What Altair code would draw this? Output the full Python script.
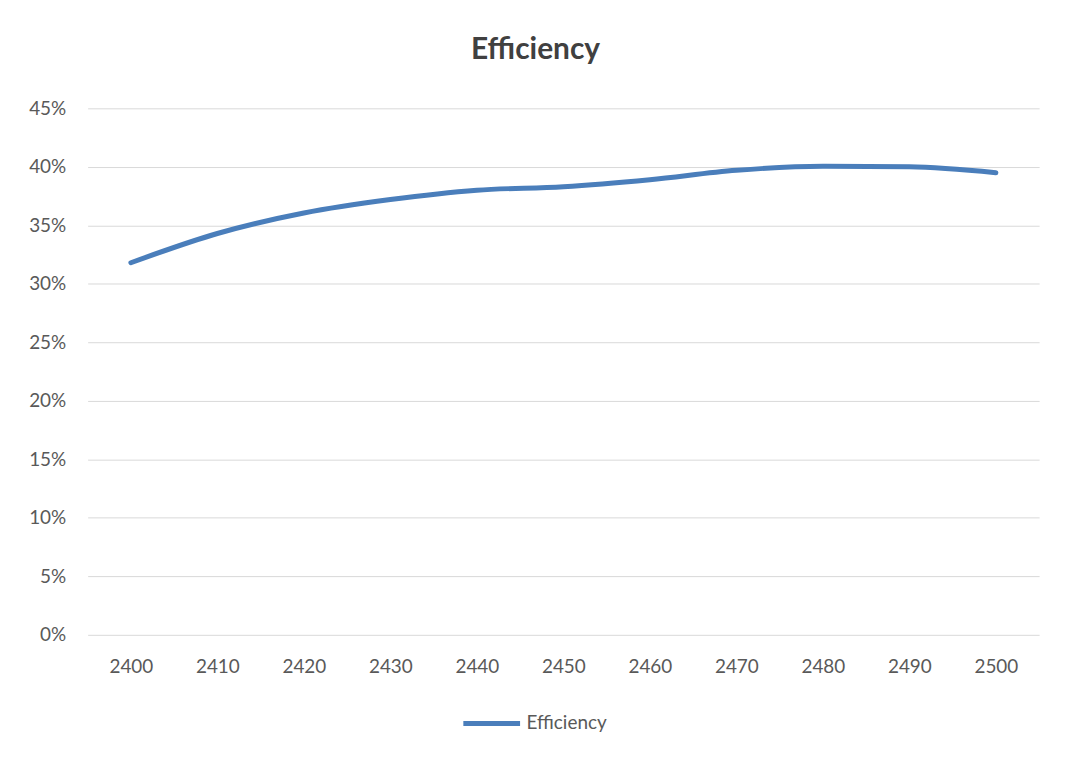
import altair as alt
import pandas as pd

years = [2400, 2410, 2420, 2430, 2440, 2450, 2460, 2470, 2480, 2490, 2500]
efficiency = [0.318, 0.343, 0.3605, 0.372, 0.380, 0.383, 0.389, 0.397, 0.4005, 0.400, 0.395]
series = ["Efficiency"] * len(years)

df = pd.DataFrame({"year": years, "eff": efficiency, "series": series})

FONT = "Lato"
TXT = "#595959"

chart = alt.Chart(df).mark_line(
    strokeWidth=5, interpolate="monotone", strokeCap="round"
).encode(
    x=alt.X("year:O", title=None,
            scale=alt.Scale(paddingInner=0, paddingOuter=0),
            axis=alt.Axis(labelAngle=0, ticks=False, domain=False, grid=False,
                          labelPadding=23, labelFontSize=19, labelColor=TXT,
                          labelFont=FONT)),
    y=alt.Y("eff:Q", title=None,
            scale=alt.Scale(domain=[0, 0.45], nice=False),
            axis=alt.Axis(format=".0%", values=[0, 0.05, 0.1, 0.15, 0.2, 0.25, 0.3, 0.35, 0.4, 0.45],
                          ticks=False, domain=False, gridColor="#d9d9d9", gridWidth=1,
                          labelPadding=22, labelFontSize=19, labelColor=TXT,
                          labelFont=FONT)),
    color=alt.Color("series:N", title=None,
                    scale=alt.Scale(range=["#4a7ebb"]),
                    legend=alt.Legend(orient="none", legendX=375, legendY=587,
                                      symbolType="stroke", symbolSize=3249,
                                      symbolStrokeWidth=5, labelFontSize=19,
                                      labelColor=TXT, labelFont=FONT, labelOffset=4)),
).properties(
    width=956, height=529,
    background="white",
    title=alt.TitleParams("Efficiency", fontSize=30, font=FONT, fontWeight="bold",
                          color="#404040", frame="group", anchor="middle",
                          offset=35, dx=-28),
    autosize=alt.AutoSizeParams(type="none"),
    padding={"left": 80, "top": 99, "right": 24, "bottom": 129},
).configure_view(strokeWidth=0, stroke="transparent")

chart.save("out.html", embed_options={"renderer": "svg", "actions": False})
